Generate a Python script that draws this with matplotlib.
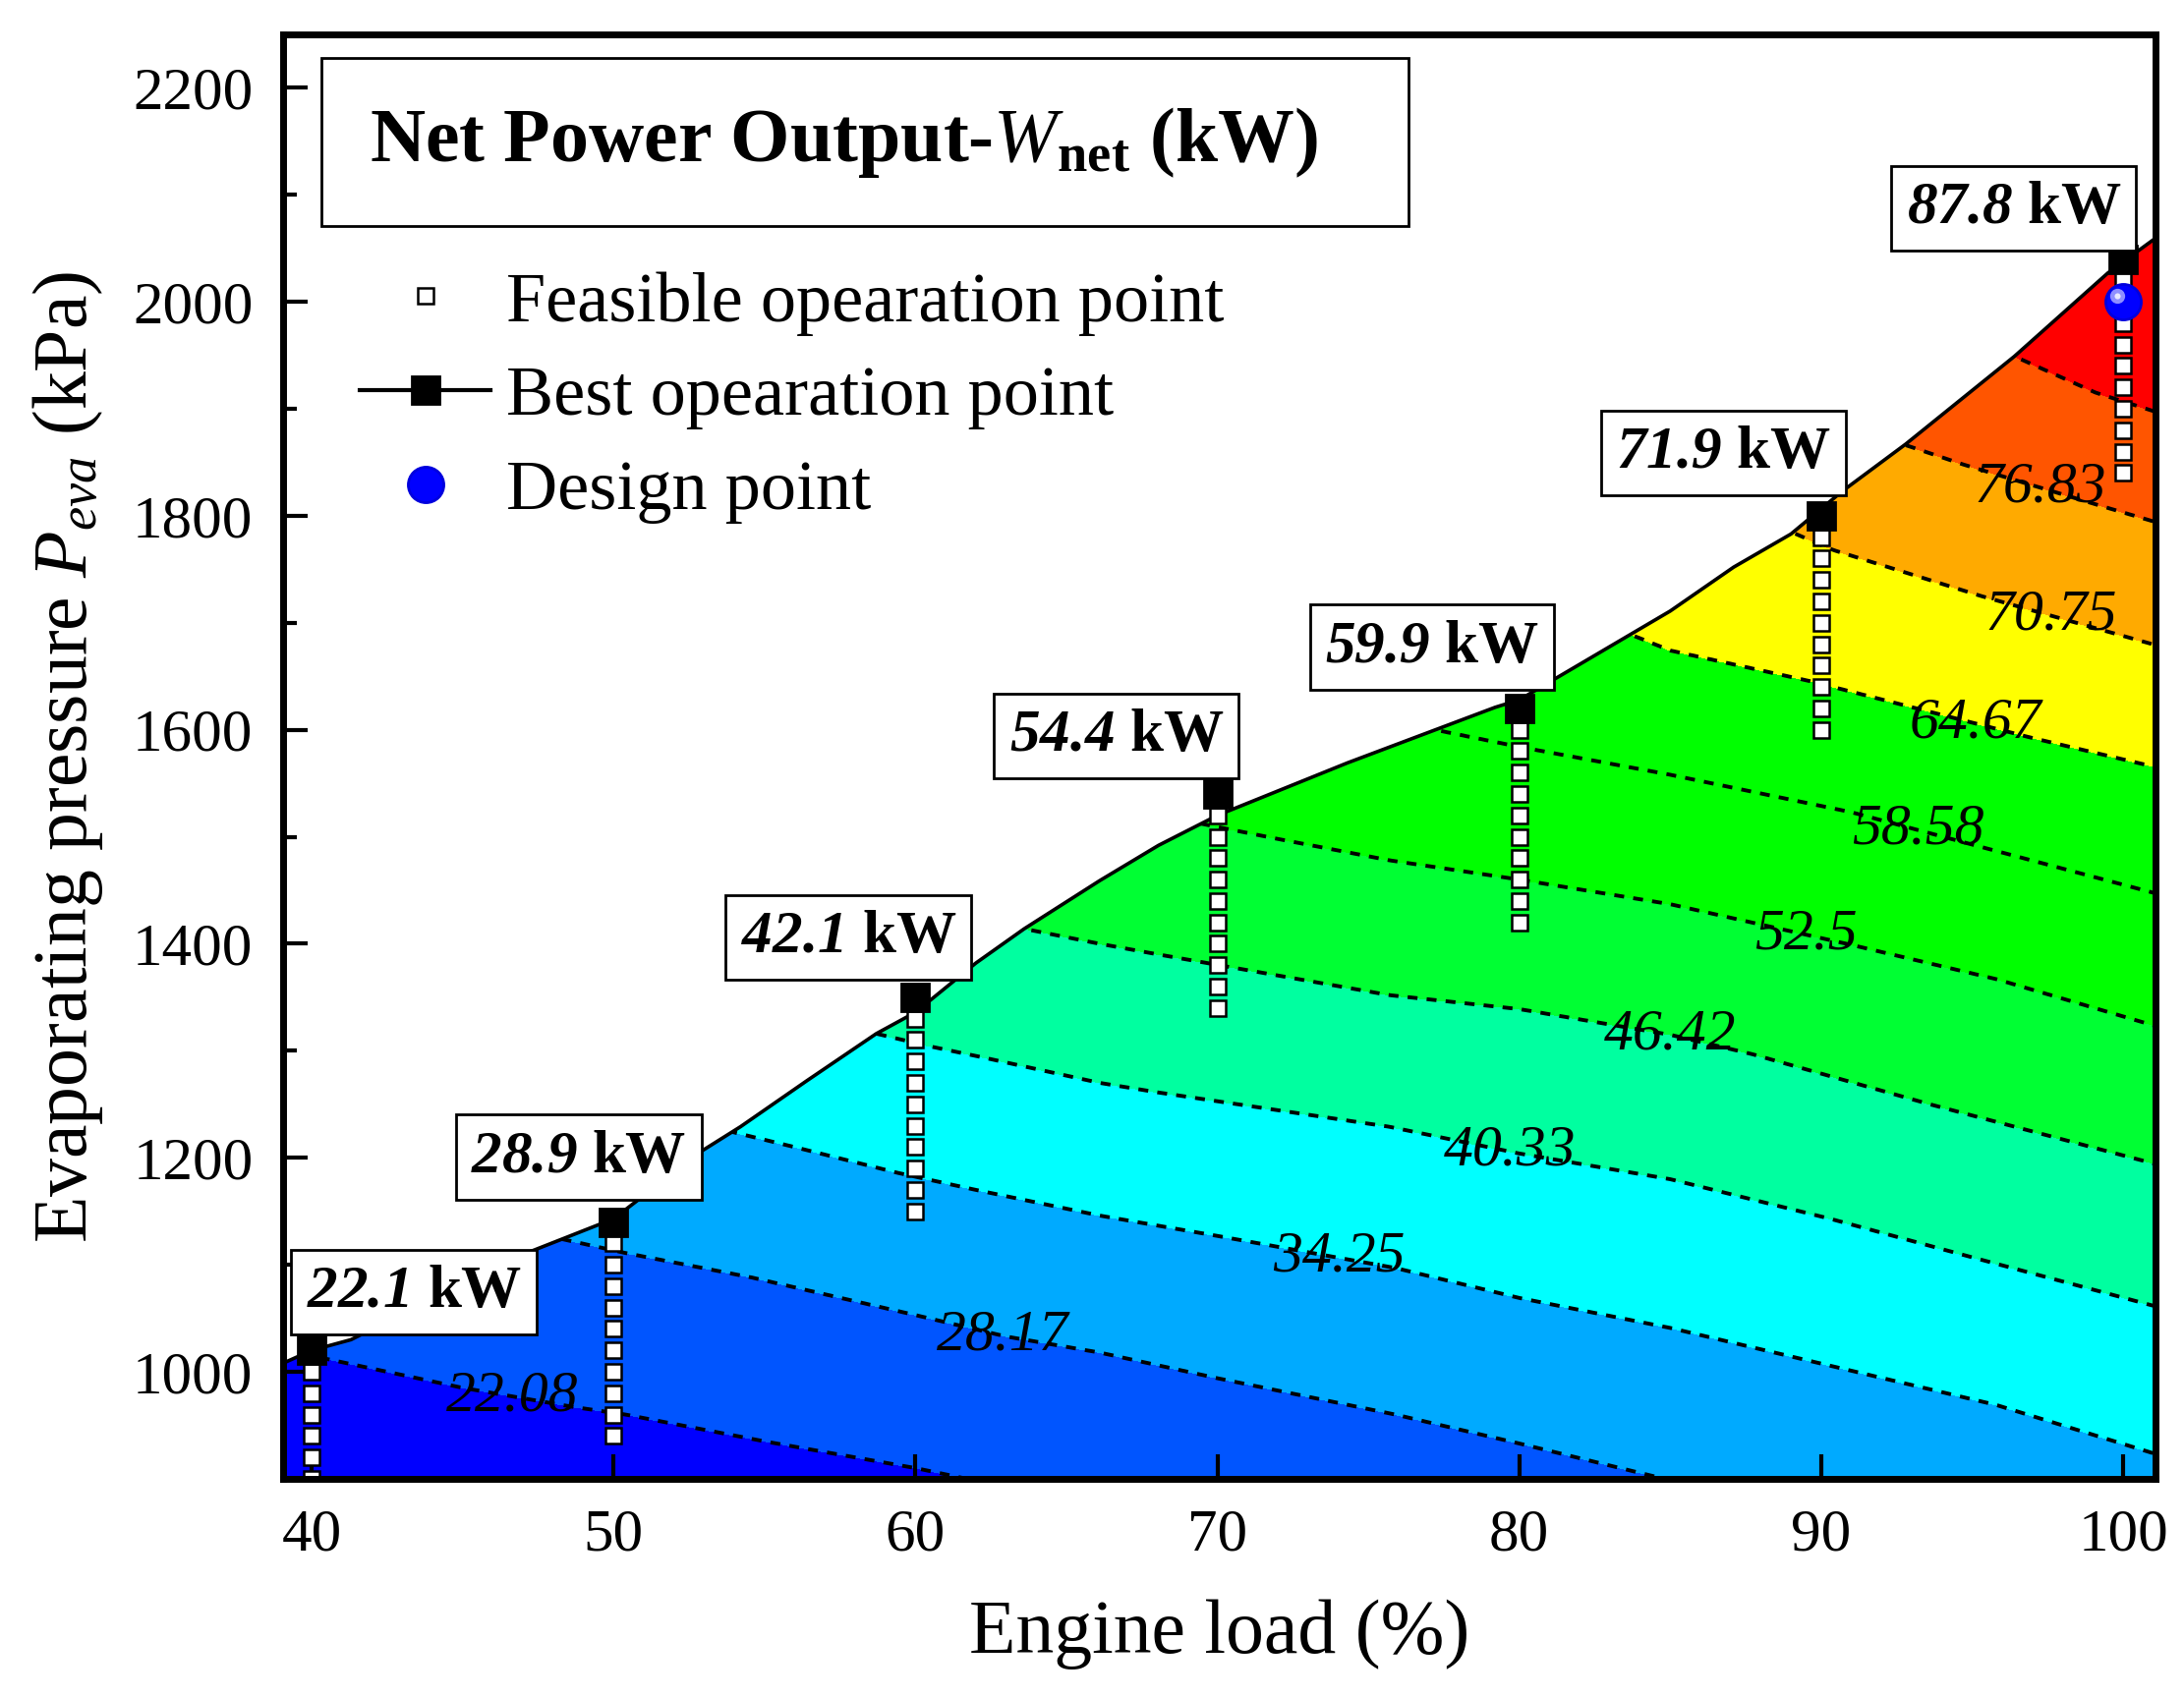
import numpy as np
import matplotlib
matplotlib.use("Agg")
import matplotlib.pyplot as plt
from matplotlib.lines import Line2D
from matplotlib.patches import Polygon, Rectangle
from matplotlib.ticker import AutoMinorLocator
from matplotlib.transforms import offset_copy

plt.rcParams['font.family'] = 'Liberation Serif'
plt.rcParams['mathtext.fontset'] = 'custom'
plt.rcParams['mathtext.rm'] = 'Liberation Serif'
plt.rcParams['mathtext.it'] = 'Liberation Serif:italic'
plt.rcParams['mathtext.bf'] = 'Liberation Serif:bold'
plt.rcParams['mathtext.bfit'] = 'Liberation Serif:bold:italic'

# ---- data ----
# best operation points (engine load %, evaporating pressure kPa, Wnet kW)
best_load = [40, 50, 60, 70, 80, 90, 100]
best_p = [1020, 1140, 1350, 1540, 1620, 1800, 2040]
best_kw = ["22.1", "28.9", "42.1", "54.4", "59.9", "71.9", "87.8"]

# feasible operation points under each best point
feasible_p = [
    [880, 900, 920, 940, 960, 980, 1000],
    [940, 960, 980, 1000, 1020, 1040, 1060, 1080, 1100, 1120],
    [1150, 1170, 1190, 1210, 1230, 1250, 1270, 1290, 1310, 1330],
    [1340, 1360, 1380, 1400, 1420, 1440, 1460, 1480, 1500, 1520],
    [1420, 1440, 1460, 1480, 1500, 1520, 1540, 1560, 1580, 1600],
    [1600, 1620, 1640, 1660, 1680, 1700, 1720, 1740, 1760, 1780],
    [1840, 1860, 1880, 1900, 1920, 1940, 1960, 1980, 2000, 2020],
]

design_load = [100]
design_p = [2000]

# upper edge of the feasible region
edge_load = [39.05, 40, 41.3, 44, 47.3, 50, 52.9, 54.2, 56.4, 58.7, 60, 62, 63.6,
             66.1, 68.05, 70, 74.3, 79.2, 80, 85, 87.1, 89, 90.7, 92.8, 96.4, 99.5, 101.1]
edge_p = [1008, 1020, 1030, 1068, 1113, 1143, 1206, 1229, 1272, 1316, 1336, 1382, 1414,
          1459, 1492, 1520, 1569, 1621, 1628, 1711, 1752, 1783, 1823, 1867, 1949, 2027, 2060]

# Wnet iso-lines (kW)
levels_kw = [22.08, 28.17, 34.25, 40.33, 46.42, 52.5, 58.58, 64.67, 70.75, 76.83, 82.92]
iso_load = [
    [39.05, 40.5, 42, 45, 48.7, 50.4, 55, 60, 61.7, 65],
    [48.3, 50.4, 54.6, 60, 63, 66.1, 70, 75.9, 80, 84.8, 88],
    [54.1, 56, 59.4, 62, 66.1, 70, 75.9, 80, 85, 90.4, 95.8, 101.1],
    [58.7, 60.5, 62.2, 66.1, 68.05, 75.7, 80, 85, 90.3, 95, 101.1],
    [63.6, 66.1, 68.05, 75.7, 80, 85, 87.7, 93.6, 101.1],
    [69.5, 72, 75.7, 80, 85, 91, 95.8, 101.1],
    [77.2, 80, 85, 91, 95.5, 101.1],
    [83.6, 85, 89.7, 92.6, 96.9, 101.1],
    [89.0, 90.4, 95.3, 101.1],
    [92.8, 94.7, 99.3, 101.1],
    [96.4, 99.1, 101.1],
]
iso_p = [
    [1014, 1012, 1003, 985, 967, 960, 935, 910, 900, 880],
    [1124, 1111, 1088, 1053, 1033, 1018, 994, 960, 933, 900, 878],
    [1223, 1210, 1186, 1170, 1146, 1127, 1097, 1069, 1041, 1005, 969, 923],
    [1316, 1304, 1294, 1270, 1261, 1229, 1204, 1180, 1143, 1107, 1061],
    [1414, 1400, 1390, 1352, 1339, 1315, 1297, 1250, 1194],
    [1512, 1498, 1478, 1460, 1437, 1399, 1367, 1323],
    [1600, 1584, 1558, 1523, 1489, 1447],
    [1690, 1674, 1645, 1624, 1593, 1565],
    [1785, 1768, 1725, 1679],
    [1866, 1848, 1809, 1794],
    [1949, 1915, 1897],
]

band_colors = ['#0000ff', '#0055ff', '#00aaff', '#00ffff', '#00ffa0', '#00ff33',
               '#00ff00', '#00ff00', '#ffff00', '#ffaa00', '#ff5500', '#ff0000']


def line_at(xq, xs, ps):
    xs = np.asarray(xs, float)
    ps = np.asarray(ps, float)
    y = np.interp(xq, xs, ps)
    lo = xq < xs[0]
    hi = xq > xs[-1]
    y[lo] = ps[0] + (xq[lo] - xs[0]) * (ps[1] - ps[0]) / (xs[1] - xs[0])
    y[hi] = ps[-1] + (xq[hi] - xs[-1]) * (ps[-1] - ps[-2]) / (xs[-1] - xs[-2])
    return y


# build a Wnet field on a grid from the traced iso-lines
gx = np.linspace(39.0, 101.2, 500)
gy = np.linspace(850, 2150, 700)
lev = np.array(levels_kw)
PL = np.array([line_at(gx, xs, ps) for xs, ps in zip(iso_load, iso_p)])
for k in range(1, len(PL)):
    PL[k] = np.maximum(PL[k], PL[k - 1] + 1.0)
Z = np.empty((len(gy), len(gx)))
for j in range(len(gx)):
    pl = PL[:, j]
    z = np.interp(gy, pl, lev)
    lo = gy < pl[0]
    hi = gy > pl[-1]
    z[lo] = lev[0] - (pl[0] - gy[lo]) * (lev[1] - lev[0]) / (pl[1] - pl[0])
    z[hi] = lev[-1] + (gy[hi] - pl[-1]) * (lev[-1] - lev[-2]) / (pl[-1] - pl[-2])
    Z[:, j] = z

fig = plt.figure(figsize=(11.11, 8.64), dpi=200)
ax = fig.add_axes([0.1296, 0.1291, 0.8573, 0.8507])

cf = ax.contourf(gx, gy, Z, levels=[-1e3] + levels_kw + [1e3], colors=band_colors, zorder=1)
cs = ax.contour(gx, gy, Z, levels=levels_kw, colors='k', linewidths=1.4,
                linestyles=[(0, (2.6, 2.4))], zorder=2)

clip = Polygon(np.column_stack([edge_load + [101.2, 39.0], edge_p + [800, 800]]),
               closed=True, transform=ax.transData)
cf.set_clip_path(clip)
cs.set_clip_path(clip)

label_pos = [(46.6, 971), (62.9, 1033), (74.0, 1104), (79.7, 1206), (85.0, 1315),
             (89.4, 1397), (93.3, 1514), (95.2, 1614), (97.7, 1713), (97.3, 1830)]
texts = ax.clabel(cs, levels=levels_kw[:10], manual=label_pos, inline=False,
                  fontsize=21.5, fmt=lambda v: f"{v:g}")
for t in texts:
    t.set_rotation(0)
    t.set_fontstyle('italic')
    t.set_zorder(7)

# feasible region edge
ax.plot(edge_load, edge_p, color='k', lw=1.3, zorder=3)

# feasible points
for x, ps in zip(best_load, feasible_p):
    ax.plot([x] * len(ps), ps, 's', ms=6, mfc='white', mec='black', mew=0.9, zorder=4)

# best points
ax.plot(best_load, best_p, 's', ms=10, color='black', zorder=5)

# design point (shaded sphere)
ax.plot(design_load, design_p, 'o', ms=13, mfc='#0000ff', mec='#0000dd', zorder=6)
hl = offset_copy(ax.transData, fig=fig, x=-2.2, y=2.2, units='points')
ax.plot(design_load, design_p, 'o', ms=5.5, mfc='#8f8fff', mec='none', zorder=6, transform=hl)
ax.plot(design_load, design_p, 'o', ms=2.2, mfc='#e8e8ff', mec='none', zorder=6, transform=hl)

# value boxes
box_offsets = [(37.5, 21.4), (-12.7, 23.7), (-24.5, 21.9), (-37, 21.2),
               (-31.9, 22.4), (-35.7, 23), (-40, 18.6)]
for x, p, kw, off in zip(best_load, best_p, best_kw, box_offsets):
    ax.annotate(r"$\mathbfit{" + kw + "}$ kW", xy=(x, p), xytext=off,
                textcoords='offset points', ha='center', va='center',
                fontsize=22, fontweight='bold', zorder=8,
                bbox=dict(boxstyle='square,pad=0.25', fc='white', ec='black', lw=1.0))

# title box
ax.add_patch(Rectangle((0.0205, 0.8673), 0.5805, 0.1164, transform=ax.transAxes,
                       fc='white', ec='black', lw=1.0, zorder=8))
ax.text(0.046, 0.912, r"Net Power Output-$\mathit{W}_{\mathbf{net}}$ (kW)",
        transform=ax.transAxes, fontsize=28, fontweight='bold', ha='left',
        va='baseline', zorder=9)

handles = [
    Line2D([], [], ls='none', marker='s', ms=6, mfc='white', mec='black', mew=0.9),
    Line2D([], [], color='black', lw=1.5, marker='s', ms=10, mfc='black'),
    Line2D([], [], ls='none', marker='o', ms=13, mfc='#0000ff', mec='#0000dd'),
]
labels = ["Feasible opearation point", "Best opearation point", "Design point"]
leg = ax.legend(handles, labels, loc='upper left', bbox_to_anchor=(0.041, 0.836),
                frameon=False, fontsize=26, handlelength=1.84, handletextpad=0.22,
                labelspacing=0.42, borderaxespad=0, borderpad=0)
leg.set_zorder(9)

ax.set_xlim(39.05, 101.07)
ax.set_ylim(900, 2250)
ax.set_xticks([40, 50, 60, 70, 80, 90, 100])
ax.set_yticks([1000, 1200, 1400, 1600, 1800, 2000, 2200])
ax.yaxis.set_minor_locator(AutoMinorLocator(2))
ax.tick_params(which='both', direction='in', top=False, right=False, width=1.5)
ax.tick_params(which='major', length=9, labelsize=22, pad=11)
ax.tick_params(which='minor', length=5)
for s in ax.spines.values():
    s.set_linewidth(2.5)
    s.set_zorder(10)

ax.set_xlabel("Engine load (%)", fontsize=28, labelpad=13)
ax.set_ylabel(r"Evaporating pressure $P_{eva}$ (kPa)", fontsize=28, labelpad=10)

fig.savefig("out.png", dpi=200)
